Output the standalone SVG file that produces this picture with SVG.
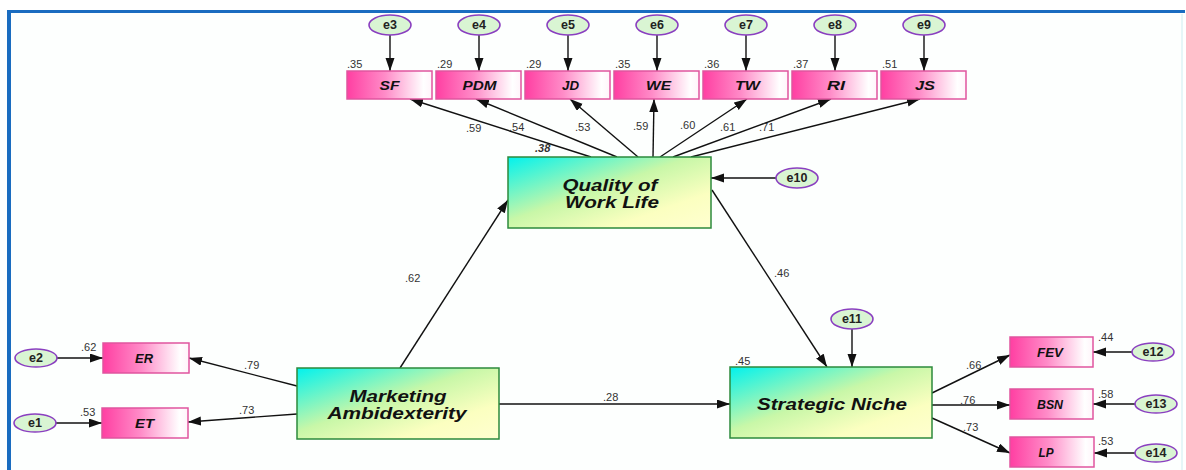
<svg xmlns="http://www.w3.org/2000/svg" width="1186" height="470" viewBox="0 0 1186 470">
<defs>
<linearGradient id="gInd" x1="0" y1="0" x2="1" y2="0">
<stop offset="0" stop-color="#ff3fa2"/>
<stop offset="0.45" stop-color="#ff8cc8"/>
<stop offset="0.9" stop-color="#ffffff"/>
<stop offset="1" stop-color="#fff4fa"/>
</linearGradient>
<linearGradient id="gLat" x1="0" y1="0" x2="1" y2="1">
<stop offset="0" stop-color="#00f2ee"/>
<stop offset="0.45" stop-color="#c8f7a8"/>
<stop offset="0.75" stop-color="#fbffc0"/>
<stop offset="1" stop-color="#ffffd0"/>
</linearGradient>
<marker id="ah" markerUnits="userSpaceOnUse" markerWidth="14" markerHeight="10" refX="13" refY="4.5" orient="auto">
<path d="M0,0 L13,4.5 L0,9 z" fill="#111"/>
</marker>
<style>
.ind rect{fill:url(#gInd);stroke:#e0559f;stroke-width:1.5}
.lat rect{fill:url(#gLat);stroke:#2c8a3c;stroke-width:1.5}
.err ellipse{fill:#d9f5d3;stroke:#8a3fc0;stroke-width:1.6}
.lbl{font-family:"Liberation Sans",Arial,sans-serif;font-weight:bold;font-style:italic;fill:#111;text-anchor:middle}
.elbl{font-family:"Liberation Sans",Arial,sans-serif;font-weight:bold;font-size:12.5px;fill:#222;text-anchor:middle}
.num{font-family:"Liberation Sans",Arial,sans-serif;font-size:11px;fill:#333}
#connectors line{stroke:#111;stroke-width:1.4;marker-end:url(#ah)}
</style>
</defs>
<rect x="0" y="0" width="1186" height="470" fill="#ffffff"/>
<rect x="11" y="13" width="1171" height="457" fill="#fdfffe"/>
<line x1="7" y1="11.5" x2="1185" y2="11.5" stroke="#1a6cc0" stroke-width="3"/>
<line x1="9" y1="10" x2="9" y2="470" stroke="#1a6cc0" stroke-width="4"/>
<line x1="1182" y1="14" x2="1182" y2="470" stroke="#e6f6f8" stroke-width="2"/>

<g id="connectors">
<line x1="390" y1="35" x2="390" y2="71"/>
<line x1="479" y1="35" x2="479" y2="71"/>
<line x1="568" y1="35" x2="568" y2="71"/>
<line x1="657" y1="35" x2="657" y2="71"/>
<line x1="746" y1="35" x2="746" y2="71"/>
<line x1="835" y1="35" x2="835" y2="71"/>
<line x1="924" y1="35" x2="924" y2="71"/>
<line x1="591" y1="157" x2="410" y2="99"/>
<line x1="617" y1="157" x2="476" y2="99"/>
<line x1="638" y1="157" x2="570" y2="99"/>
<line x1="653" y1="157" x2="654" y2="99"/>
<line x1="660" y1="157" x2="747" y2="99"/>
<line x1="673" y1="157" x2="831" y2="99"/>
<line x1="691" y1="157" x2="920" y2="99"/>
<line x1="776" y1="178" x2="711" y2="178"/>
<line x1="400" y1="368" x2="508" y2="200"/>
<line x1="712" y1="190" x2="827" y2="367"/>
<line x1="852" y1="329" x2="852" y2="367"/>
<line x1="499" y1="404" x2="730" y2="404"/>
<line x1="297" y1="386" x2="189" y2="358"/>
<line x1="297" y1="414" x2="188" y2="422"/>
<line x1="57" y1="358" x2="103" y2="358"/>
<line x1="56" y1="423" x2="102" y2="423"/>
<line x1="932" y1="393" x2="1010" y2="355"/>
<line x1="932" y1="405" x2="1010" y2="405"/>
<line x1="932" y1="418" x2="1010" y2="453"/>
<line x1="1132" y1="352" x2="1093" y2="352"/>
<line x1="1135" y1="404" x2="1093" y2="404"/>
<line x1="1135" y1="453" x2="1094" y2="453"/>
</g>

<g id="labels">
<text class="num" x="466" y="132">.59</text>
<text class="num" x="509" y="131">.54</text>
<text class="num" x="575" y="131">.53</text>
<text class="num" x="633" y="130">.59</text>
<text class="num" x="680" y="129">.60</text>
<text class="num" x="720" y="131">.61</text>
<text class="num" x="759" y="131">.71</text>
<text class="num" x="535" y="152" font-weight="bold" font-style="italic">.38</text>
<text class="num" x="405" y="282">.62</text>
<text class="num" x="774" y="277">.46</text>
<text class="num" x="603" y="401">.28</text>
<text class="num" x="244" y="369">.79</text>
<text class="num" x="239" y="414">.73</text>
<text class="num" x="966" y="369">.66</text>
<text class="num" x="960" y="404">.76</text>
<text class="num" x="963" y="431">.73</text>
<text class="num" x="347" y="68">.35</text>
<text class="num" x="437" y="68">.29</text>
<text class="num" x="526" y="68">.29</text>
<text class="num" x="615" y="68">.35</text>
<text class="num" x="704" y="68">.36</text>
<text class="num" x="793" y="68">.37</text>
<text class="num" x="882" y="68">.51</text>
<text class="num" x="81" y="351">.62</text>
<text class="num" x="80" y="416">.53</text>
<text class="num" x="735" y="365">.45</text>
<text class="num" x="1098" y="341">.44</text>
<text class="num" x="1098" y="398">.58</text>
<text class="num" x="1098" y="445">.53</text>
</g>

<g id="e3" class="err"><ellipse cx="390" cy="25" rx="21" ry="10"/><text class="elbl" x="390" y="29">e3</text></g>
<g id="e4" class="err"><ellipse cx="479" cy="25" rx="21" ry="10"/><text class="elbl" x="479" y="29">e4</text></g>
<g id="e5" class="err"><ellipse cx="568" cy="25" rx="21" ry="10"/><text class="elbl" x="568" y="29">e5</text></g>
<g id="e6" class="err"><ellipse cx="657" cy="25" rx="21" ry="10"/><text class="elbl" x="657" y="29">e6</text></g>
<g id="e7" class="err"><ellipse cx="746" cy="25" rx="21" ry="10"/><text class="elbl" x="746" y="29">e7</text></g>
<g id="e8" class="err"><ellipse cx="835" cy="25" rx="21" ry="10"/><text class="elbl" x="835" y="29">e8</text></g>
<g id="e9" class="err"><ellipse cx="924" cy="25" rx="21" ry="10"/><text class="elbl" x="924" y="29">e9</text></g>
<g id="e10" class="err"><ellipse cx="797" cy="178" rx="21" ry="10"/><text class="elbl" x="797" y="182">e10</text></g>
<g id="e11" class="err"><ellipse cx="852" cy="319" rx="21" ry="10"/><text class="elbl" x="852" y="323">e11</text></g>
<g id="e2" class="err"><ellipse cx="36" cy="358" rx="21" ry="9"/><text class="elbl" x="36" y="362">e2</text></g>
<g id="e1" class="err"><ellipse cx="35" cy="423" rx="21" ry="9"/><text class="elbl" x="35" y="427">e1</text></g>
<g id="e12" class="err"><ellipse cx="1153" cy="352" rx="21" ry="9"/><text class="elbl" x="1153" y="356">e12</text></g>
<g id="e13" class="err"><ellipse cx="1156" cy="404" rx="21" ry="9"/><text class="elbl" x="1156" y="408">e13</text></g>
<g id="e14" class="err"><ellipse cx="1156" cy="453" rx="21" ry="9"/><text class="elbl" x="1156" y="457">e14</text></g>

<g id="SF" class="ind"><rect x="347" y="71" width="85" height="28"/><text class="lbl" x="389.5" y="89.5" font-size="12" textLength="20" lengthAdjust="spacingAndGlyphs">SF</text></g>
<g id="PDM" class="ind"><rect x="436" y="71" width="85" height="28"/><text class="lbl" x="479.5" y="89.5" font-size="12" textLength="34" lengthAdjust="spacingAndGlyphs">PDM</text></g>
<g id="JD" class="ind"><rect x="525" y="71" width="85" height="28"/><text class="lbl" x="570.5" y="89.5" font-size="12" textLength="17" lengthAdjust="spacingAndGlyphs">JD</text></g>
<g id="WE" class="ind"><rect x="614" y="71" width="85" height="28"/><text class="lbl" x="658.5" y="89.5" font-size="12" textLength="25" lengthAdjust="spacingAndGlyphs">WE</text></g>
<g id="TW" class="ind"><rect x="703" y="71" width="85" height="28"/><text class="lbl" x="747.5" y="89.5" font-size="12" textLength="25" lengthAdjust="spacingAndGlyphs">TW</text></g>
<g id="RI" class="ind"><rect x="792" y="71" width="85" height="28"/><text class="lbl" x="836" y="89.5" font-size="12" textLength="18" lengthAdjust="spacingAndGlyphs">RI</text></g>
<g id="JS" class="ind"><rect x="881" y="71" width="85" height="28"/><text class="lbl" x="925" y="89.5" font-size="12" textLength="20" lengthAdjust="spacingAndGlyphs">JS</text></g>
<g id="ER" class="ind"><rect x="103" y="343" width="86" height="30"/><text class="lbl" x="144" y="362.5" font-size="12" textLength="18" lengthAdjust="spacingAndGlyphs">ER</text></g>
<g id="ET" class="ind"><rect x="102" y="408" width="86" height="30"/><text class="lbl" x="144.5" y="427.5" font-size="12" textLength="19" lengthAdjust="spacingAndGlyphs">ET</text></g>
<g id="FEV" class="ind"><rect x="1010" y="337" width="83" height="30"/><text class="lbl" x="1050" y="356.5" font-size="12" textLength="26" lengthAdjust="spacingAndGlyphs">FEV</text></g>
<g id="BSN" class="ind"><rect x="1010" y="389" width="83" height="30"/><text class="lbl" x="1050" y="408.5" font-size="12" textLength="26" lengthAdjust="spacingAndGlyphs">BSN</text></g>
<g id="LP" class="ind"><rect x="1010" y="437" width="84" height="30"/><text class="lbl" x="1046" y="456.5" font-size="12" textLength="15" lengthAdjust="spacingAndGlyphs">LP</text></g>

<g id="QWL" class="lat"><rect x="508" y="157" width="203" height="71"/><text class="lbl" x="610" y="191" font-size="17" textLength="95" lengthAdjust="spacingAndGlyphs">Quality of</text><text class="lbl" x="612" y="208" font-size="17" textLength="94" lengthAdjust="spacingAndGlyphs">Work Life</text></g>
<g id="MA" class="lat"><rect x="297" y="368" width="202" height="71"/><text class="lbl" x="398" y="402" font-size="17" textLength="97" lengthAdjust="spacingAndGlyphs">Marketing</text><text class="lbl" x="397" y="419" font-size="17" textLength="139" lengthAdjust="spacingAndGlyphs">Ambidexterity</text></g>
<g id="SN" class="lat"><rect x="730" y="367" width="202" height="71"/><text class="lbl" x="832" y="410" font-size="17" textLength="150" lengthAdjust="spacingAndGlyphs">Strategic Niche</text></g>
</svg>
